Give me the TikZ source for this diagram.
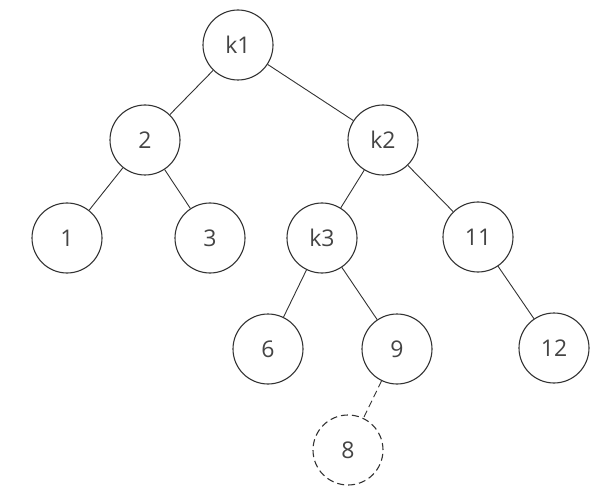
\documentclass[tikz,border=0pt]{standalone}
\usepackage{fontspec}
\setmainfont{Open Sans}
\usepackage{tikz}
\usetikzlibrary{positioning}
\usepackage{xcolor}
\definecolor{edgegray}{HTML}{333333}
\definecolor{textgray}{HTML}{444444}

\begin{document}
\begin{tikzpicture}[x=1pt,y=-1pt,
  key/.style={circle,draw=edgegray,line width=1.1pt,minimum size=70pt,inner sep=0pt,text=textgray,font=\fontsize{23}{25}\selectfont},
  link/.style={draw=edgegray,line width=0.9pt},
  ghost/.style={dash pattern=on 7pt off 4pt}]
\useasboundingbox (0,0) rectangle (604,494);
\node[key] (k1) at (238,45) {k1};
\node[key] (n2) at (145,140) {2};
\node[key] (k2) at (383,140) {k2};
\node[key] (n1) at (67,238) {1};
\node[key] (n3) at (210,238) {3};
\node[key] (k3) at (322,238) {k3};
\node[key] (n11) at (478,237) {11};
\node[key] (n6) at (268,349) {6};
\node[key] (n9) at (397,349) {9};
\node[key] (n12) at (554,348) {12};
\node[key,ghost] (n8) at (348,450) {8};
\draw[link] (k1) -- (n2);
\draw[link] (k1) -- (k2);
\draw[link] (n2) -- (n1);
\draw[link] (n2) -- (n3);
\draw[link] (k2) -- (k3);
\draw[link] (k2) -- (n11);
\draw[link] (k3) -- (n6);
\draw[link] (k3) -- (n9);
\draw[link] (n11) -- (n12);
\draw[link,ghost] (n9) -- (n8);
\end{tikzpicture}
\end{document}
